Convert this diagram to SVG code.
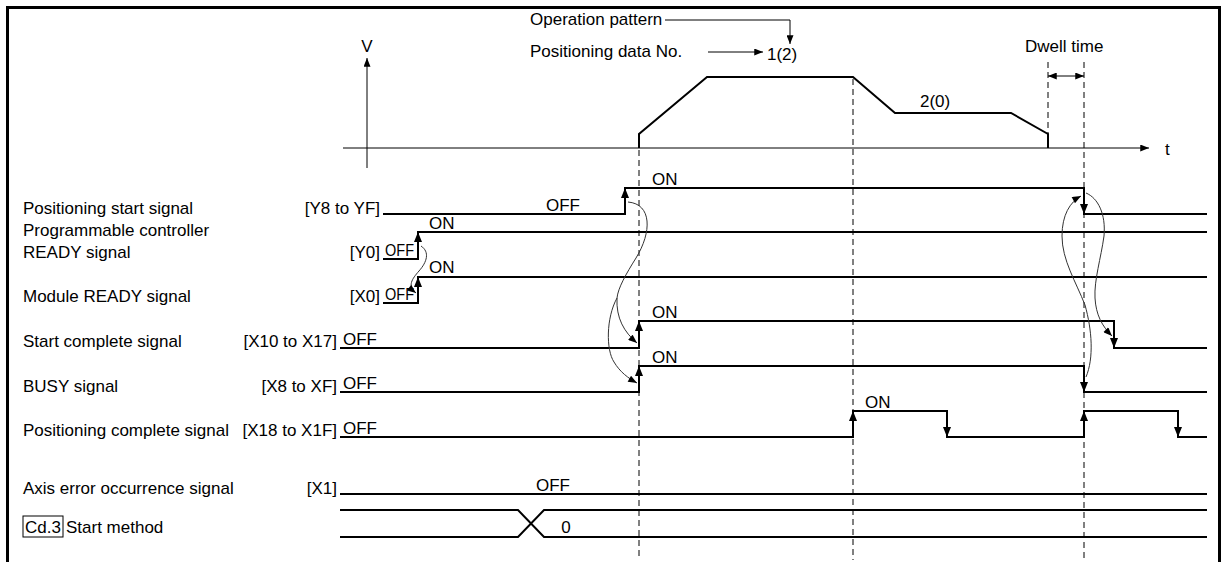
<svg xmlns="http://www.w3.org/2000/svg" width="1224" height="562" viewBox="0 0 1224 562">
<style>
text{font-family:"Liberation Sans",Arial,sans-serif;font-size:17px;fill:#000}
.sig{fill:none;stroke:#000;stroke-width:2}
.edge{stroke:#000;stroke-width:2}
.thin{fill:none;stroke:#000;stroke-width:1}
.curve{fill:none;stroke:#333;stroke-width:1}
.dash{fill:none;stroke:#000;stroke-width:1;stroke-dasharray:6 4}
.frame{fill:none;stroke:#000;stroke-width:3}
.end{text-anchor:end}
.mid{text-anchor:middle}
</style>
<defs>
<marker id="ah" viewBox="0 0 10 8" refX="10" refY="4" markerWidth="10" markerHeight="8" markerUnits="userSpaceOnUse" orient="auto"><path d="M0,0 L10,4 L0,8 Z" fill="#000"/></marker>
<marker id="as" viewBox="0 0 10 8" refX="10" refY="4" markerWidth="10" markerHeight="7" markerUnits="userSpaceOnUse" orient="auto"><path d="M0,0 L10,4 L0,8 Z" fill="#000"/></marker>
</defs>
<rect width="1224" height="562" fill="#fff"/>
<path class="frame" d="M7.5,562 V7.5 H1219.5 V562"/>

<g id="velocity-graph">
<line class="thin" x1="367" y1="168" x2="367" y2="58" marker-end="url(#as)"/>
<text x="367" y="52" class="mid">V</text>
<line class="thin" x1="343" y1="148" x2="1149" y2="148" marker-end="url(#as)"/>
<text x="1165" y="155">t</text>
<polyline class="sig" points="639,148 639,134 707,77 853,77 895,113 1011,113 1048,134 1048,148"/>
<text x="920" y="107">2(0)</text>
<text x="530" y="25">Operation pattern</text>
<polyline class="thin" points="665,20 790,20 790,44" marker-end="url(#as)"/>
<text x="530" y="57">Positioning data No.</text>
<line class="thin" x1="708" y1="52" x2="763" y2="52" marker-end="url(#as)"/>
<text x="767" y="60">1(2)</text>
<text x="1025" y="52">Dwell time</text>
<line class="thin" x1="1066" y1="76" x2="1048" y2="76" marker-end="url(#as)"/>
<line class="thin" x1="1066" y1="76" x2="1084" y2="76" marker-end="url(#as)"/>
</g>

<g id="guides">
<line class="dash" x1="639" y1="150" x2="639" y2="560"/>
<line class="dash" x1="853" y1="79" x2="853" y2="560"/>
<line class="dash" x1="1048" y1="62" x2="1048" y2="134"/>
<line class="dash" x1="1084" y1="62" x2="1084" y2="560"/>
</g>

<g id="positioning-start">
<text x="23" y="214">Positioning start signal</text>
<text x="380" y="214" class="end">[Y8 to YF]</text>
<polyline class="sig" points="383,214 625,214 625,188 1084,188 1084,214 1207,214"/>
<line class="edge" x1="625" y1="214" x2="625" y2="188" marker-end="url(#ah)"/>
<line class="edge" x1="1084" y1="188" x2="1084" y2="214" marker-end="url(#ah)"/>
<text x="546" y="211">OFF</text>
<text x="652" y="185">ON</text>
</g>

<g id="pc-ready">
<text x="23" y="236">Programmable controller</text>
<text x="23" y="258">READY signal</text>
<text x="380" y="258" class="end">[Y0]</text>
<polyline class="sig" points="383,259 418,259 418,232 1207,232"/>
<line class="edge" x1="418" y1="259" x2="418" y2="232" marker-end="url(#ah)"/>
<text x="385" y="256" textLength="29" lengthAdjust="spacingAndGlyphs">OFF</text>
<text x="429" y="229">ON</text>
</g>

<g id="module-ready">
<text x="23" y="302">Module READY signal</text>
<text x="380" y="302" class="end">[X0]</text>
<polyline class="sig" points="383,303 418,303 418,277 1207,277"/>
<line class="edge" x1="418" y1="303" x2="418" y2="277" marker-end="url(#ah)"/>
<text x="385" y="300" textLength="29" lengthAdjust="spacingAndGlyphs">OFF</text>
<text x="429" y="273">ON</text>
</g>

<g id="start-complete">
<text x="23" y="347">Start complete signal</text>
<text x="337" y="347" class="end">[X10 to X17]</text>
<polyline class="sig" points="340,348 639,348 639,321 1114,321 1114,348 1207,348"/>
<line class="edge" x1="639" y1="348" x2="639" y2="321" marker-end="url(#ah)"/>
<line class="edge" x1="1114" y1="321" x2="1114" y2="348" marker-end="url(#ah)"/>
<text x="343" y="345">OFF</text>
<text x="652" y="318">ON</text>
</g>

<g id="busy">
<text x="23" y="392">BUSY signal</text>
<text x="337" y="392" class="end">[X8 to XF]</text>
<polyline class="sig" points="340,392 639,392 639,366 1084,366 1084,392 1207,392"/>
<line class="edge" x1="639" y1="392" x2="639" y2="366" marker-end="url(#ah)"/>
<line class="edge" x1="1084" y1="366" x2="1084" y2="392" marker-end="url(#ah)"/>
<text x="343" y="389">OFF</text>
<text x="652" y="363">ON</text>
</g>

<g id="positioning-complete">
<text x="23" y="436">Positioning complete signal</text>
<text x="337" y="436" class="end">[X18 to X1F]</text>
<polyline class="sig" points="340,437 853,437 853,411 947,411 947,437 1084,437 1084,411 1178,411 1178,437 1207,437"/>
<line class="edge" x1="853" y1="437" x2="853" y2="411" marker-end="url(#ah)"/>
<line class="edge" x1="947" y1="411" x2="947" y2="437" marker-end="url(#ah)"/>
<line class="edge" x1="1084" y1="437" x2="1084" y2="411" marker-end="url(#ah)"/>
<line class="edge" x1="1178" y1="411" x2="1178" y2="437" marker-end="url(#ah)"/>
<text x="343" y="434">OFF</text>
<text x="865" y="408">ON</text>
</g>

<g id="axis-error">
<text x="23" y="494">Axis error occurrence signal</text>
<text x="337" y="494" class="end">[X1]</text>
<line class="sig" x1="340" y1="494" x2="1207" y2="494"/>
<text x="553" y="491" class="mid">OFF</text>
</g>

<g id="start-method">
<rect x="23" y="516" width="40" height="21" fill="none" stroke="#000" stroke-width="1"/>
<text x="25" y="533">Cd.3</text>
<text x="66" y="533">Start method</text>
<polyline class="sig" points="340,510 518,510 544,537 1207,537"/>
<polyline class="sig" points="340,537 518,537 544,510 1207,510"/>
<text x="566" y="533" class="mid">0</text>
</g>

<g id="connectors">
<path class="curve" d="M421,246 C430,252 427,262 419,271 C412,279 407,286 416,293" marker-end="url(#as)"/>
<path class="curve" d="M628,202 C652,204 652,232 636,258 C626,274 618,288 617,298 C616,318 624,332 637,343" marker-end="url(#as)"/>
<path class="curve" d="M617,298 C606,318 606,350 614,362 C620,372 628,378 637,383" marker-end="url(#as)"/>
<path class="curve" d="M1086,377 C1094,358 1092,330 1085,305 C1076,282 1062,260 1062,236 C1062,215 1070,202 1081,196" marker-end="url(#as)"/>
<path class="curve" d="M1086,193 C1098,198 1106,214 1104,236 C1101,258 1094,280 1095,298 C1096,315 1102,326 1112,336" marker-end="url(#as)"/>
</g>
</svg>
